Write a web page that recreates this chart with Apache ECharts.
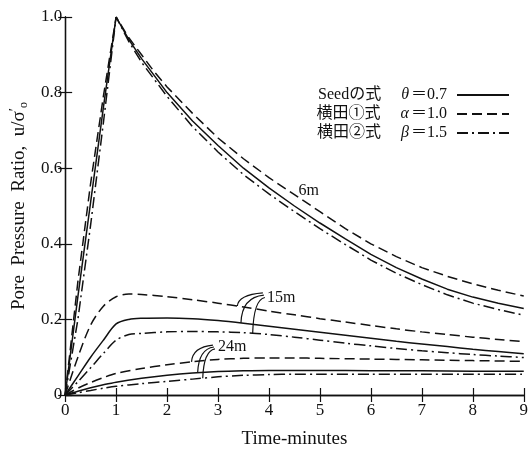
<!DOCTYPE html>
<html>
<head>
<meta charset="utf-8">
<script src="https://cdn.jsdelivr.net/npm/echarts@6/dist/echarts.min.js"></script>
<style>
  html, body { margin: 0; padding: 0; background: #fff; }
  #chart { width: 531px; height: 454px; }
</style>
</head>
<body>
<div id="chart"></div>
<script>
// 時間軸 (分)
const xTicks = [0, 1, 2, 3, 4, 5, 6, 7, 8, 9];
const yTicks = [0, 0.2, 0.4, 0.6, 0.8, 1.0];

// 深さ 6m
const time6 = [0, 0.25, 0.5, 0.75, 1, 1.25, 1.5, 1.75, 2, 2.5, 3, 3.5, 4, 4.5, 5, 5.5, 6, 6.5, 7, 7.5, 8, 8.5, 9];
const seed6 = [0, 0.26, 0.51, 0.76, 1, 0.94, 0.89, 0.845, 0.8, 0.725, 0.66, 0.6, 0.548, 0.5, 0.455, 0.413, 0.372, 0.337, 0.307, 0.28, 0.259, 0.243, 0.229];
const yokota1_6 = [0, 0.3, 0.56, 0.79, 1, 0.945, 0.9, 0.855, 0.815, 0.745, 0.68, 0.625, 0.575, 0.53, 0.485, 0.44, 0.4, 0.366, 0.337, 0.314, 0.294, 0.277, 0.262];
const yokota2_6 = [0, 0.2, 0.45, 0.72, 1, 0.935, 0.88, 0.835, 0.79, 0.71, 0.643, 0.583, 0.532, 0.485, 0.44, 0.398, 0.357, 0.322, 0.292, 0.265, 0.243, 0.226, 0.211];

// 深さ 15m
const time15 = [0, 0.25, 0.5, 0.75, 1, 1.25, 1.5, 2, 2.5, 3, 3.5, 4, 4.5, 5, 5.5, 6, 6.5, 7, 7.5, 8, 8.5, 9];
const seed15 = [0, 0.05, 0.1, 0.145, 0.188, 0.2, 0.203, 0.204, 0.202, 0.197, 0.19, 0.182, 0.174, 0.166, 0.158, 0.15, 0.142, 0.135, 0.128, 0.121, 0.115, 0.109];
const yokota1_15 = [0, 0.1, 0.185, 0.235, 0.26, 0.267, 0.266, 0.26, 0.252, 0.243, 0.233, 0.222, 0.212, 0.202, 0.193, 0.184, 0.175, 0.167, 0.16, 0.153, 0.147, 0.141];
const yokota2_15 = [0, 0.035, 0.072, 0.11, 0.145, 0.16, 0.163, 0.167, 0.168, 0.167, 0.165, 0.16, 0.153, 0.145, 0.137, 0.13, 0.123, 0.117, 0.112, 0.107, 0.103, 0.099];

// 深さ 24m
const time24 = [0, 0.25, 0.5, 0.75, 1, 1.5, 2, 2.5, 3, 3.5, 4, 4.5, 5, 6, 7, 8, 9];
const seed24 = [0, 0.01, 0.019, 0.027, 0.034, 0.044, 0.052, 0.058, 0.062, 0.064, 0.065, 0.065, 0.065, 0.064, 0.064, 0.063, 0.063];
const yokota1_24 = [0, 0.018, 0.033, 0.046, 0.057, 0.07, 0.08, 0.088, 0.094, 0.097, 0.098, 0.098, 0.097, 0.095, 0.093, 0.091, 0.089];
const yokota2_24 = [0, 0.006, 0.012, 0.018, 0.023, 0.03, 0.036, 0.042, 0.048, 0.052, 0.054, 0.055, 0.055, 0.055, 0.055, 0.055, 0.055];

const SEED = 'Seedの式';
const Y1 = '横田①式';
const Y2 = '横田②式';

const serif = "'Liberation Serif', 'Noto Sans CJK JP', serif";
const ink = '#111';
const dashed = [10, 5];
const dashDot = [11, 4, 2, 4];

function line(name, t, v, type, smooth) {
  return {
    name: name,
    type: 'line',
    data: t.map((x, i) => [x, v[i]]),
    symbol: 'none',
    smooth: smooth,
    color: ink,
    lineStyle: { color: ink, width: 1.5, type: type },
    silent: true
  };
}

// 線形補間 (注記の引出線の位置用)
function interp(ts, vs, t) {
  for (let i = 1; i < ts.length; i++) {
    if (t <= ts[i]) {
      const k = (t - ts[i - 1]) / (ts[i] - ts[i - 1]);
      return vs[i - 1] + k * (vs[i] - vs[i - 1]);
    }
  }
  return vs[vs.length - 1];
}

const chart = echarts.init(document.getElementById('chart'));

const axisLine = { show: true, lineStyle: { color: ink, width: 1.3 } };
const axisTick = { show: true, inside: true, length: 7, lineStyle: { color: ink, width: 1.2 } };

const option = {
  animation: false,
  backgroundColor: '#fff',
  grid: { left: 64, right: 5, top: 17, bottom: 53 },
  legend: {
    data: [SEED, Y1, Y2],
    orient: 'vertical',
    align: 'right',
    right: 16,
    top: 82,
    itemWidth: 52,
    itemHeight: 16,
    itemGap: 3,
    selectedMode: false,
    itemStyle: { opacity: 0 },
    formatter: function (name) {
      if (name === SEED) return '{n|Seedの式}{g|θ}{e|＝0.7}';
      if (name === Y1) return '{n|横田①式}{g|α}{e|＝1.0}';
      return '{n|横田②式}{g|β}{e|＝1.5}';
    },
    textStyle: {
      color: ink,
      rich: {
        n: { fontFamily: serif, fontSize: 16, color: ink, padding: [0, 20, 0, 0] },
        g: { fontFamily: serif, fontSize: 16, fontStyle: 'italic', color: ink, padding: [0, 2, 0, 0] },
        e: { fontFamily: serif, fontSize: 16, color: ink, padding: [0, 5, 0, 0] }
      }
    }
  },
  xAxis: [
    {
      type: 'value', min: 0, max: 9, interval: 1,
      name: 'Time-minutes', nameLocation: 'middle', nameGap: 35,
      nameTextStyle: { fontFamily: serif, fontSize: 19, color: ink },
      axisLine: axisLine, axisTick: axisTick,
      axisLabel: { margin: 7, fontFamily: serif, fontSize: 17, color: ink },
      splitLine: { show: false }
    },
    {
      type: 'value', min: 0, max: 9, interval: 1, position: 'top',
      axisLine: axisLine, axisTick: axisTick,
      axisLabel: { show: false }, splitLine: { show: false }
    }
  ],
  yAxis: [
    {
      type: 'value', min: 0, max: 1, interval: 0.2,
      name: '{n|Pore  Pressure  Ratio,  u/σ}{p|′}{s|o}',
      nameLocation: 'middle', nameGap: 18,
      nameTextStyle: {
        color: ink,
        rich: {
          n: { fontFamily: serif, fontSize: 19, color: ink, lineHeight: 22 },
          p: { fontFamily: serif, fontSize: 15, color: ink, lineHeight: 22, verticalAlign: 'top' },
          s: { fontFamily: serif, fontSize: 12, color: ink, lineHeight: 22, verticalAlign: 'bottom' }
        }
      },
      axisLine: axisLine, axisTick: axisTick,
      axisLabel: {
        margin: 3, fontFamily: serif, fontSize: 17, color: ink,
        formatter: v => (v === 0 ? '0' : v.toFixed(1))
      },
      splitLine: { show: false }
    },
    {
      type: 'value', min: 0, max: 1, interval: 0.2, position: 'right',
      axisLine: axisLine, axisTick: axisTick,
      axisLabel: { show: false }, splitLine: { show: false }
    }
  ],
  series: [
    line(SEED, time6, seed6, 'solid', false),
    line(Y1, time6, yokota1_6, dashed, false),
    line(Y2, time6, yokota2_6, dashDot, false),
    line(SEED, time15, seed15, 'solid', 0.3),
    line(Y1, time15, yokota1_15, dashed, 0.3),
    line(Y2, time15, yokota2_15, dashDot, 0.3),
    line(SEED, time24, seed24, 'solid', 0.3),
    line(Y1, time24, yokota1_24, dashed, 0.3),
    line(Y2, time24, yokota2_24, dashDot, 0.3)
  ]
};

chart.setOption(option);

// 深さの注記と引出線
const px = p => chart.convertToPixel({ xAxisIndex: 0, yAxisIndex: 0 }, p);

function leader(start, end) {
  const s = px(start), e = px(end);
  return {
    type: 'bezierCurve',
    shape: { x1: s[0], y1: s[1], x2: e[0], y2: e[1], cpx1: s[0] + 1, cpy1: e[1] + 2 },
    style: { stroke: ink, lineWidth: 1.2, fill: null },
    silent: true
  };
}

function label(text, at) {
  const p = px(at);
  return {
    type: 'text', x: p[0], y: p[1], silent: true,
    style: { text: text, font: "16px 'Liberation Serif', serif", fill: ink, align: 'center', verticalAlign: 'middle' }
  };
}

chart.setOption({
  graphic: [
    label('6m', [4.78, 0.54]),
    label('15m', [4.24, 0.258]),
    label('24m', [3.28, 0.127]),
    leader([3.38, interp(time15, yokota1_15, 3.38)], [3.88, 0.27]),
    leader([3.45, interp(time15, seed15, 3.45)], [3.9, 0.264]),
    leader([3.68, interp(time15, yokota2_15, 3.68)], [3.92, 0.258]),
    leader([2.48, interp(time24, yokota1_24, 2.48)], [2.9, 0.132]),
    leader([2.6, interp(time24, seed24, 2.6)], [2.92, 0.127]),
    leader([2.7, interp(time24, yokota2_24, 2.7)], [2.94, 0.122])
  ]
});
</script>
</body>
</html>
